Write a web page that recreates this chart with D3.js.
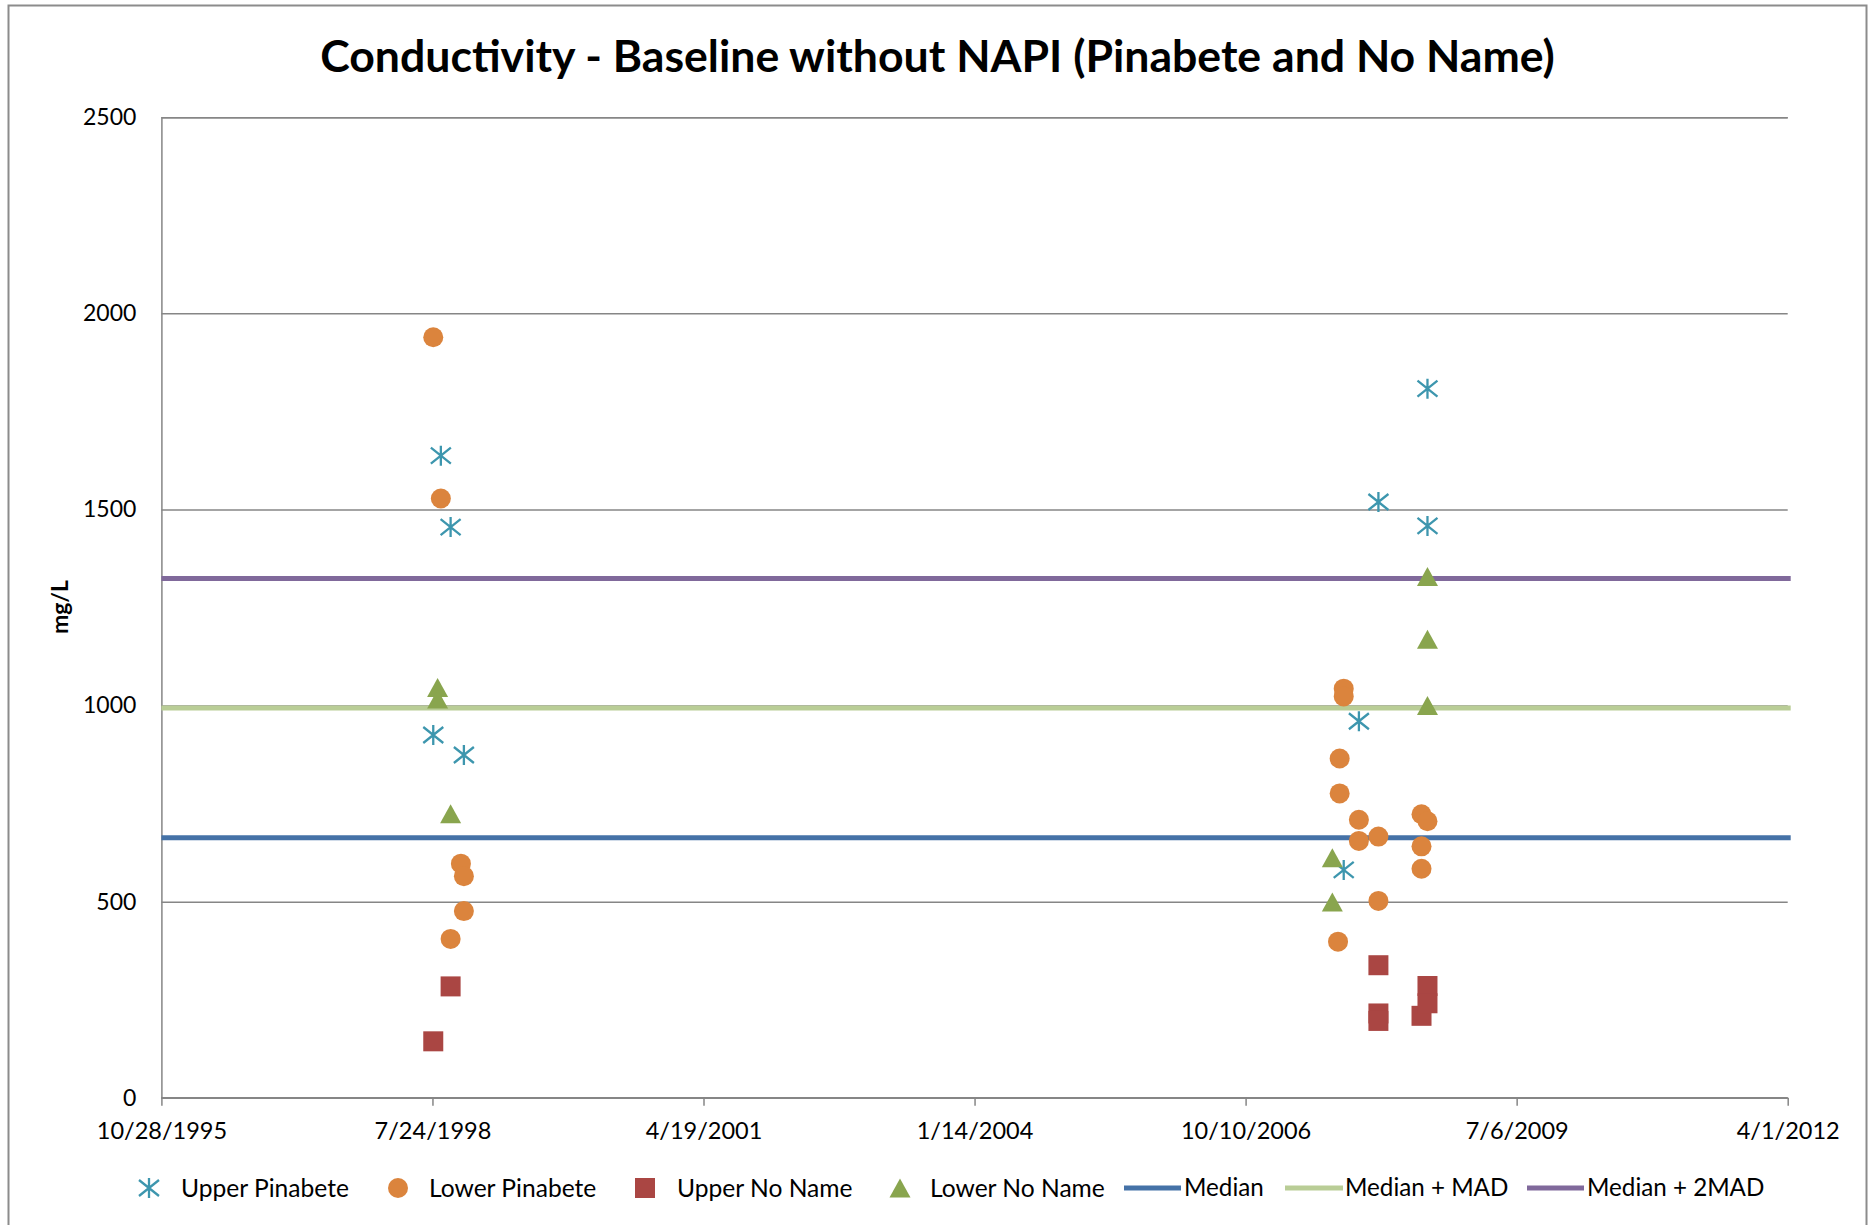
<!DOCTYPE html>
<html>
<head>
<meta charset="utf-8">
<script src="https://cdn.jsdelivr.net/npm/d3@7"></script>
<style>
  html, body { margin: 0; padding: 0; background: #ffffff; }
  svg { display: block; }
  text { font-family: Lato, "Open Sans", sans-serif; fill: #000; }
</style>
</head>
<body>
<svg id="chart" width="1875" height="1225"></svg>
<script>
// ---------- Data ----------
const chartTitle = "Conductivity - Baseline without NAPI (Pinabete and No Name)";
const yAxisTitle = "mg/L";
const xTickLabels = ["10/28/1995", "7/24/1998", "4/19/2001", "1/14/2004", "10/10/2006", "7/6/2009", "4/1/2012"];
const yTickValues = [0, 500, 1000, 1500, 2000, 2500];

const upperPinabete = [
  ["7/27/1998", 925], ["8/24/1998", 1637], ["9/29/1998", 1455], ["11/17/1998", 874],
  ["10/7/2007", 581], ["12/2/2007", 960], ["2/12/2008", 1519], ["8/11/2008", 1808], ["8/11/2008", 1458]
];
const lowerPinabete = [
  ["7/27/1998", 1939], ["8/24/1998", 1528], ["9/29/1998", 405], ["11/6/1998", 597],
  ["11/17/1998", 565], ["11/17/1998", 476],
  ["9/16/2007", 398], ["9/22/2007", 865], ["9/22/2007", 776], ["10/7/2007", 1043], ["10/7/2007", 1023],
  ["12/2/2007", 709], ["12/2/2007", 655], ["2/12/2008", 666], ["2/12/2008", 502],
  ["7/20/2008", 723], ["7/20/2008", 641], ["7/20/2008", 584], ["8/11/2008", 705]
];
const upperNoName = [
  ["7/27/1998", 144], ["9/29/1998", 284],
  ["2/12/2008", 338], ["2/12/2008", 215], ["2/12/2008", 196], ["7/20/2008", 209],
  ["8/11/2008", 285], ["8/11/2008", 241]
];
const lowerNoName = [
  ["8/12/1998", 1046], ["8/12/1998", 1017], ["9/29/1998", 724],
  ["8/26/2007", 612], ["8/26/2007", 499],
  ["8/11/2008", 1329], ["8/11/2008", 1169], ["8/11/2008", 1000]
];
const medianValue = 663;
const medianPlusMAD = 994;
const medianPlus2MAD = 1324;

// ---------- Layout ----------
const W = 1875, H = 1225;
const plot = { left: 161.4, right: 1787.7, top: 117.2, bottom: 1097.8 };
const parse = d3.timeParse("%m/%d/%Y");

const svg = d3.select("#chart");

// outer border
svg.append("rect")
  .attr("x", 8.5).attr("y", 5.5).attr("width", 1858).attr("height", 1240)
  .attr("fill", "#fff").attr("stroke", "#8c8c8c").attr("stroke-width", 2);

const x = d3.scaleTime()
  .domain([parse(xTickLabels[0]), parse(xTickLabels[xTickLabels.length - 1])])
  .range([plot.left, plot.right]);
const y = d3.scaleLinear().domain([0, 2500]).range([plot.bottom, plot.top]);

// title
svg.append("text")
  .attr("x", W / 2).attr("y", 72)
  .attr("text-anchor", "middle")
  .attr("font-size", 44.6).attr("font-weight", 700)
  .text(chartTitle);

// gridlines + y axis
const yAxis = d3.axisLeft(y).tickValues(yTickValues).tickSize(-(plot.right - plot.left)).tickPadding(25)
  .tickFormat(d3.format("d"));
const gy = svg.append("g").attr("transform", `translate(${plot.left},0)`).call(yAxis);
gy.select(".domain").attr("stroke", "#868686").attr("stroke-width", 1.5);
gy.selectAll(".tick line").attr("stroke", "#868686").attr("stroke-width", 1.5);
gy.selectAll(".tick text").attr("font-size", 23).attr("font-family", "Lato, sans-serif").attr("fill", "#000");

// x axis
const xAxis = d3.axisBottom(x).tickValues(xTickLabels.map(parse)).tickSize(8).tickPadding(17)
  .tickFormat((d, i) => xTickLabels[i]);
const gx = svg.append("g").attr("transform", `translate(0,${plot.bottom})`).call(xAxis);
gx.select(".domain").attr("stroke", "#868686").attr("stroke-width", 1.5).attr("d", `M${plot.left},0H${plot.right}`);
gx.selectAll(".tick line").attr("stroke", "#868686").attr("stroke-width", 1.5);
gx.selectAll(".tick text").attr("font-size", 23.5).attr("font-family", "Lato, sans-serif").attr("fill", "#000");

// y axis title
svg.append("text")
  .attr("transform", `translate(68,607) rotate(-90)`)
  .attr("text-anchor", "middle")
  .attr("font-size", 23).attr("font-weight", 700)
  .text(yAxisTitle);

// reference lines
const refLines = [
  { name: "Median", value: medianValue, color: "#4572A7" },
  { name: "Median + MAD", value: medianPlusMAD, color: "#B9CD96" },
  { name: "Median + 2MAD", value: medianPlus2MAD, color: "#80699B" }
];
svg.append("g").selectAll("line").data(refLines).join("line")
  .attr("x1", plot.left).attr("x2", plot.right + 3)
  .attr("y1", d => y(d.value)).attr("y2", d => y(d.value))
  .attr("stroke", d => d.color).attr("stroke-width", 5);

// markers
const colors = {
  upperPinabete: "#3D96AE",
  lowerPinabete: "#DB843D",
  upperNoName: "#AA4643",
  lowerNoName: "#89A54E"
};
function drawStar(g, cx, cy, color) {
  const r = 10, dx = 10, dy = 8;
  const p = `M${cx},${cy - r}V${cy + r}M${cx - dx},${cy - dy}L${cx + dx},${cy + dy}M${cx - dx},${cy + dy}L${cx + dx},${cy - dy}`;
  g.append("path").attr("d", p).attr("stroke", color).attr("stroke-width", 2.3).attr("fill", "none");
}
function drawCircle(g, cx, cy, color) {
  g.append("circle").attr("cx", cx).attr("cy", cy).attr("r", 10).attr("fill", color);
}
function drawSquare(g, cx, cy, color) {
  g.append("rect").attr("x", cx - 10).attr("y", cy - 10).attr("width", 20).attr("height", 20).attr("fill", color);
}
function drawTriangle(g, cx, cy, color) {
  const h = 19, w = 21;
  g.append("path").attr("d", `M${cx},${cy - h / 2}L${cx + w / 2},${cy + h / 2}L${cx - w / 2},${cy + h / 2}Z`).attr("fill", color);
}

const series = [
  { name: "Upper Pinabete", data: upperPinabete, color: colors.upperPinabete, draw: drawStar },
  { name: "Lower Pinabete", data: lowerPinabete, color: colors.lowerPinabete, draw: drawCircle },
  { name: "Upper No Name", data: upperNoName, color: colors.upperNoName, draw: drawSquare },
  { name: "Lower No Name", data: lowerNoName, color: colors.lowerNoName, draw: drawTriangle }
];
const markG = svg.append("g");
series.forEach(s => {
  const g = markG.append("g");
  s.data.forEach(([d, v]) => s.draw(g, x(parse(d)), y(v), s.color));
});

// legend
const legendY = 1188;
const legendMarkerX = [149, 398, 645, 900];
const legendTextX = [181, 429, 677, 930];
const lg = svg.append("g");
series.forEach((s, i) => {
  s.draw(lg, legendMarkerX[i], legendY, s.color);
  lg.append("text").attr("x", legendTextX[i]).attr("y", legendY).attr("dy", "0.35em")
    .attr("font-size", 24.6).text(s.name);
});
const legendLineX = [[1124, 1181], [1285, 1343], [1527, 1584]];
const legendLineTextX = [1184, 1345, 1587];
refLines.forEach((r, i) => {
  lg.append("line").attr("x1", legendLineX[i][0]).attr("x2", legendLineX[i][1])
    .attr("y1", legendY).attr("y2", legendY).attr("stroke", r.color).attr("stroke-width", 5);
  lg.append("text").attr("x", legendLineTextX[i]).attr("y", legendY).attr("dy", "0.35em")
    .attr("font-size", 24.2).text(r.name);
});
</script>
</body>
</html>
